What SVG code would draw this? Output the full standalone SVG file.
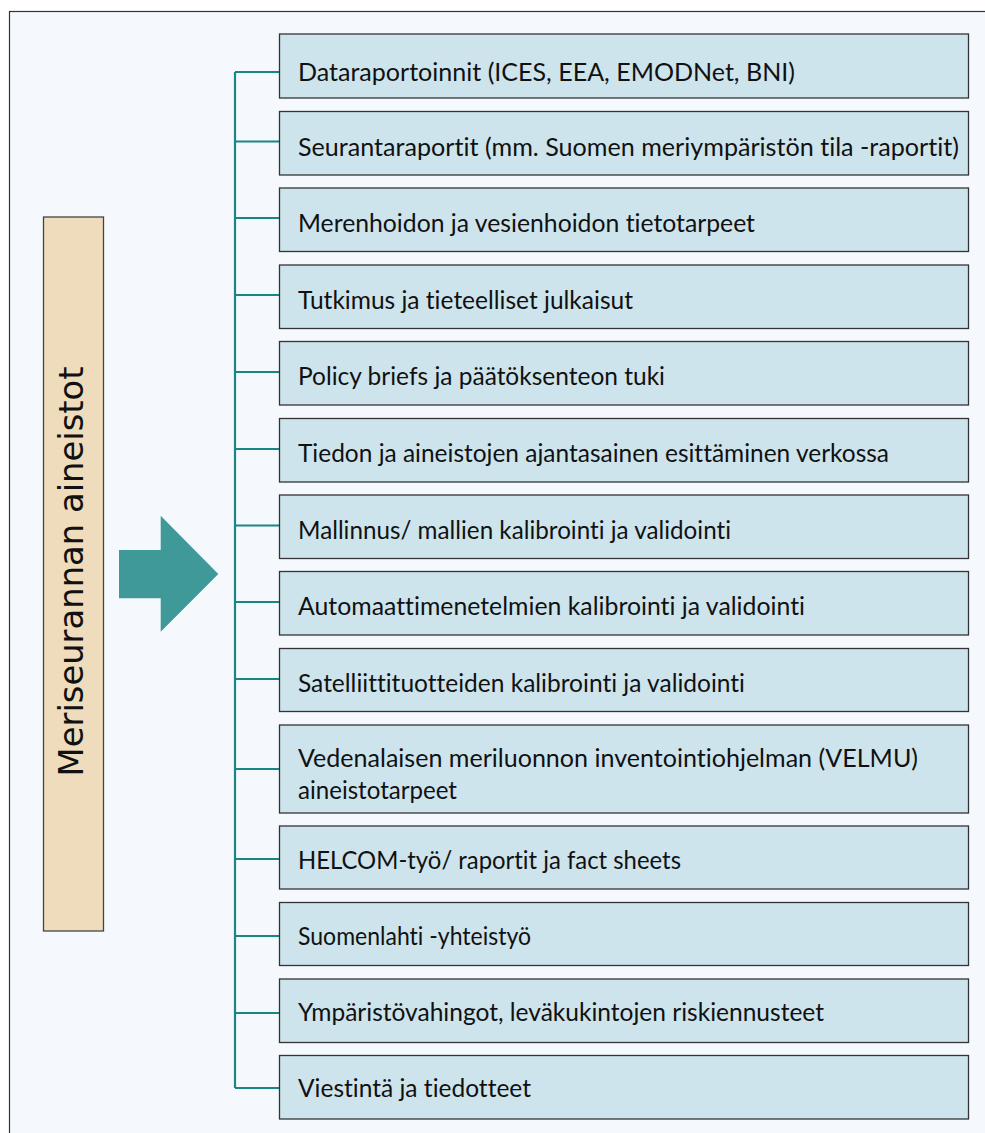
<svg xmlns="http://www.w3.org/2000/svg" width="985" height="1133" viewBox="0 0 985 1133">
<style>
.box{fill:#cde4ed;stroke:#333;stroke-width:1.3}
.lbl{font-family:Lato,"Open Sans","Liberation Sans",sans-serif;font-size:25px;fill:#111;font-variant-ligatures:none}
.conn{stroke:#1a8585;stroke-width:2.2;fill:none}
</style>
<rect x="0" y="0" width="985" height="1133" fill="#ffffff"/>
<rect x="9.5" y="11.5" width="990" height="1140" fill="#f5f9fd" stroke="#333" stroke-width="1.2"/>
<g id="source">
<rect x="43.5" y="217" width="60" height="714" fill="#efdcbc" stroke="#444" stroke-width="1.3"/>
<text transform="translate(83.3,571.5) rotate(-90)" text-anchor="middle" font-family="'DejaVu Sans',sans-serif" font-size="33.8" fill="#111">Meriseurannan aineistot</text>
</g>
<g id="arrow">
<polygon points="119,550 160.7,550 160.7,515.7 218.3,574 160.7,631.7 160.7,598.3 119,598.3" fill="#409999"/>
</g>
<g id="connectors">
<path class="conn" d="M235,72 V1088 M235,72 H279.5 M235,141.5 H279.5 M235,218 H279.5 M235,295 H279.5 M235,372 H279.5 M235,449 H279.5 M235,525.5 H279.5 M235,602 H279.5 M235,679 H279.5 M235,769 H279.5 M235,859 H279.5 M235,936 H279.5 M235,1013 H279.5 M235,1088 H279.5"/>
</g>
<g id="n1"><rect class="box" x="279.5" y="34" width="689" height="64"/><text class="lbl" x="298" y="80.5" textLength="497" lengthAdjust="spacingAndGlyphs">Dataraportoinnit (ICES, EEA, EMODNet, BNI)</text></g>
<g id="n2"><rect class="box" x="279.5" y="111.5" width="689" height="63.5"/><text class="lbl" x="298" y="155.5" textLength="661" lengthAdjust="spacingAndGlyphs">Seurantaraportit (mm. Suomen meriympäristön tila -raportit)</text></g>
<g id="n3"><rect class="box" x="279.5" y="188" width="689" height="63.5"/><text class="lbl" x="298" y="231.5" textLength="457" lengthAdjust="spacingAndGlyphs">Merenhoidon ja vesienhoidon tietotarpeet</text></g>
<g id="n4"><rect class="box" x="279.5" y="265" width="689" height="63.5"/><text class="lbl" x="298" y="308.5" textLength="335" lengthAdjust="spacingAndGlyphs">Tutkimus ja tieteelliset julkaisut</text></g>
<g id="n5"><rect class="box" x="279.5" y="341.5" width="689" height="63.5"/><text class="lbl" x="298" y="385" textLength="367" lengthAdjust="spacingAndGlyphs">Policy briefs ja päätöksenteon tuki</text></g>
<g id="n6"><rect class="box" x="279.5" y="418.5" width="689" height="63.5"/><text class="lbl" x="298" y="462" textLength="591" lengthAdjust="spacingAndGlyphs">Tiedon ja aineistojen ajantasainen esittäminen verkossa</text></g>
<g id="n7"><rect class="box" x="279.5" y="495" width="689" height="63.5"/><text class="lbl" x="298" y="538.5" textLength="433" lengthAdjust="spacingAndGlyphs">Mallinnus/ mallien kalibrointi ja validointi</text></g>
<g id="n8"><rect class="box" x="279.5" y="571.5" width="689" height="63.5"/><text class="lbl" x="298" y="615" textLength="507" lengthAdjust="spacingAndGlyphs">Automaattimenetelmien kalibrointi ja validointi</text></g>
<g id="n9"><rect class="box" x="279.5" y="648.5" width="689" height="63"/><text class="lbl" x="298" y="692" textLength="447" lengthAdjust="spacingAndGlyphs">Satelliittituotteiden kalibrointi ja validointi</text></g>
<g id="n10"><rect class="box" x="279.5" y="725" width="689" height="88"/><text class="lbl" x="298" y="766.7" textLength="620" lengthAdjust="spacingAndGlyphs">Vedenalaisen meriluonnon inventointiohjelman (VELMU)</text><text class="lbl" x="298" y="799" textLength="159" lengthAdjust="spacingAndGlyphs">aineistotarpeet</text></g>
<g id="n11"><rect class="box" x="279.5" y="826" width="689" height="63"/><text class="lbl" x="298" y="869" textLength="383" lengthAdjust="spacingAndGlyphs">HELCOM-työ/ raportit ja fact sheets</text></g>
<g id="n12"><rect class="box" x="279.5" y="902.5" width="689" height="63"/><text class="lbl" x="298" y="945" textLength="233" lengthAdjust="spacingAndGlyphs">Suomenlahti -yhteistyö</text></g>
<g id="n13"><rect class="box" x="279.5" y="979" width="689" height="63.5"/><text class="lbl" x="298" y="1021" textLength="526" lengthAdjust="spacingAndGlyphs">Ympäristövahingot, leväkukintojen riskiennusteet</text></g>
<g id="n14"><rect class="box" x="279.5" y="1055.5" width="689" height="63.5"/><text class="lbl" x="298" y="1096.5" textLength="233" lengthAdjust="spacingAndGlyphs">Viestintä ja tiedotteet</text></g>
</svg>
